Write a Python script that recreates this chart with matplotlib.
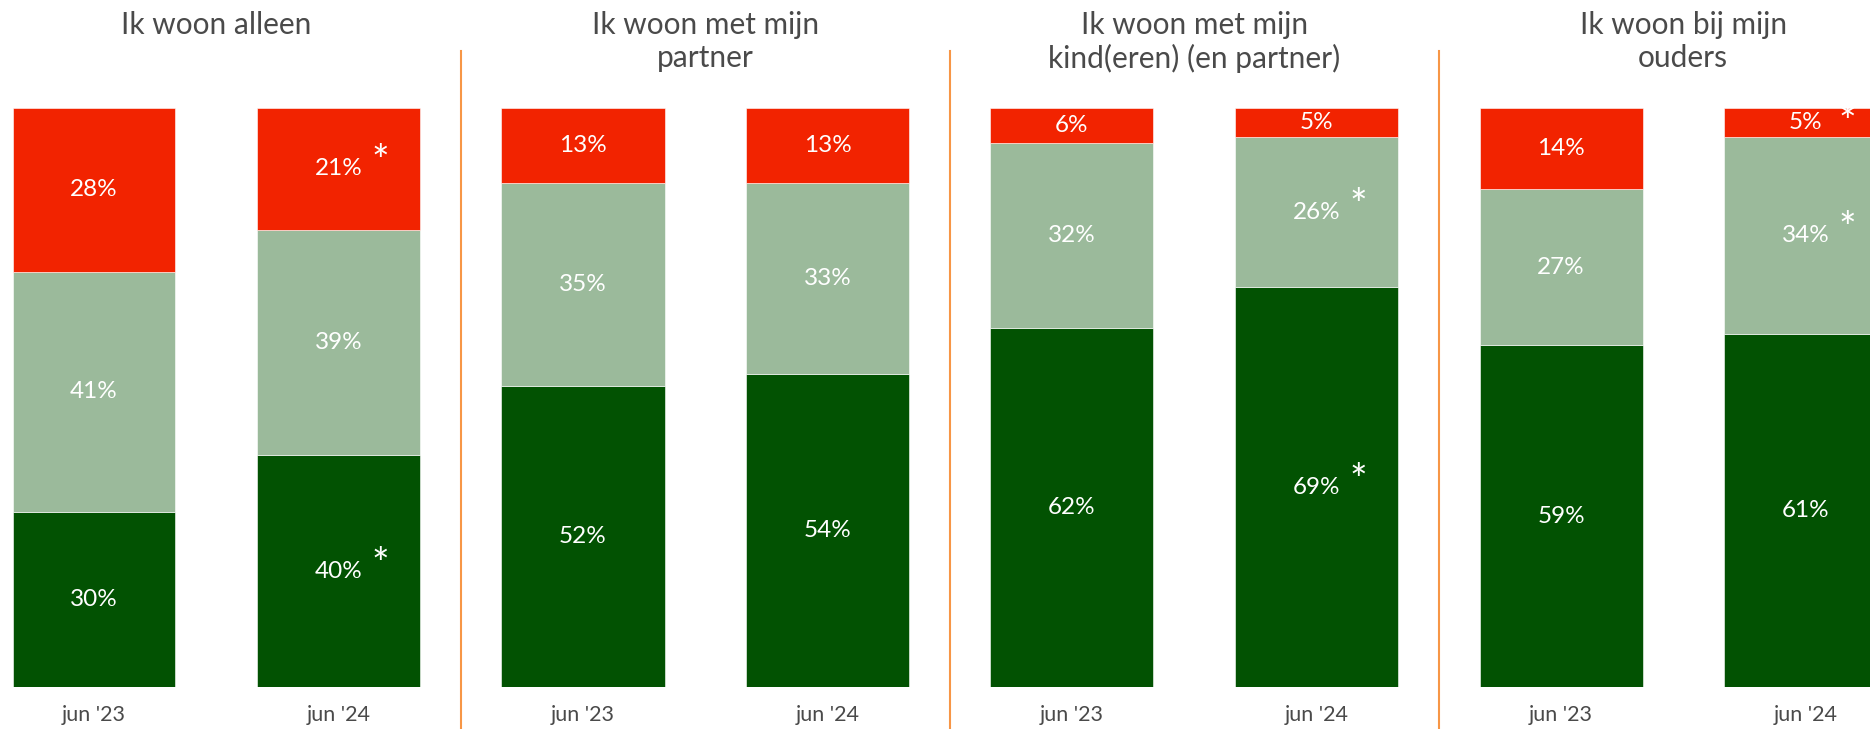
import numpy as np
import matplotlib.pyplot as plt
from matplotlib.transforms import blended_transform_factory

# panels (one per living situation), two waves each
titles = ["Ik woon alleen", "Ik woon met mijn\npartner",
          "Ik woon met mijn\nkind(eren) (en partner)", "Ik woon bij mijn\nouders"]
waves = ["jun '23", "jun '24"]

# per bar, in order panel1-jun23, panel1-jun24, panel2-jun23, ...
bottom_vals = [30, 40, 52, 54, 62, 69, 59, 61]   # dark green
middle_vals = [41, 39, 35, 33, 32, 26, 27, 34]   # light green
top_vals = [28, 21, 13, 13, 6, 5, 14, 5]         # red

# significance markers per segment
bottom_sig = [False, True, False, False, False, True, False, False]
middle_sig = [False, False, False, False, False, True, False, True]
top_sig = [False, True, False, False, False, False, False, True]

c_dark = "#025202"
c_light = "#9BBA9B"
c_red = "#F22300"
c_text = "#4a4a4a"
c_div = "#F79646"

W, H = 1870, 729
fig = plt.figure(figsize=(W / 100, H / 100), dpi=100)
ax = fig.add_axes([0, 42 / H, 1, 579 / H])

step = 244.5
x = np.arange(len(bottom_vals))
ax.set_xlim(-94 / step, (W - 94) / step)
ax.set_ylim(0, 1)
ax.axis("off")

b = np.array(bottom_vals, float)
m = np.array(middle_vals, float)
t = np.array(top_vals, float)
tot = b + m + t
bn, mn, tn = b / tot, m / tot, t / tot

bw = 163 / step
ax.bar(x, bn, width=bw, color=c_dark, edgecolor="white", linewidth=0.4)
ax.bar(x, mn, width=bw, bottom=bn, color=c_light, edgecolor="white", linewidth=0.4)
ax.bar(x, tn, width=bw, bottom=bn + mn, color=c_red, edgecolor="white", linewidth=0.4)

font = "Lato"


def label(xi, yc, h, val, sig):
    ax.text(xi, yc, f"{val}%", color="white", fontsize=17.5, ha="center", va="center",
            family=font)
    if sig:
        # small segments: keep the star inside the bar
        dy = 4 if h > 0.1 else -1
        ax.annotate("*", (xi, yc), xytext=(30, dy), textcoords="offset points",
                    color="white", fontsize=30, ha="center", va="center", family=font)


for i in x:
    label(i, bn[i] / 2, bn[i], bottom_vals[i], bottom_sig[i])
    label(i, bn[i] + mn[i] / 2, mn[i], middle_vals[i], middle_sig[i])
    label(i, bn[i] + mn[i] + tn[i] / 2, tn[i], top_vals[i], top_sig[i])

tr = blended_transform_factory(ax.transData, fig.transFigure)
for p, title in enumerate(titles):
    ax.text(2 * p + 0.5, 1 - 11 / H, title, transform=tr, ha="center", va="top",
            fontsize=21.5, color=c_text, family=font, linespacing=1.2)
for i in x:
    ax.text(i, 14 / H, waves[i % 2], transform=tr, ha="center", va="center",
            fontsize=15.5, color=c_text, family=font)

# orange dividers between panels
for p in range(1, len(titles)):
    ax.axvline(2 * p - 0.5, ymin=-42 / 579, ymax=(H - 51 - 42) / 579,
               color=c_div, linewidth=1.5, clip_on=False)

fig.savefig("out.png", dpi=100)
